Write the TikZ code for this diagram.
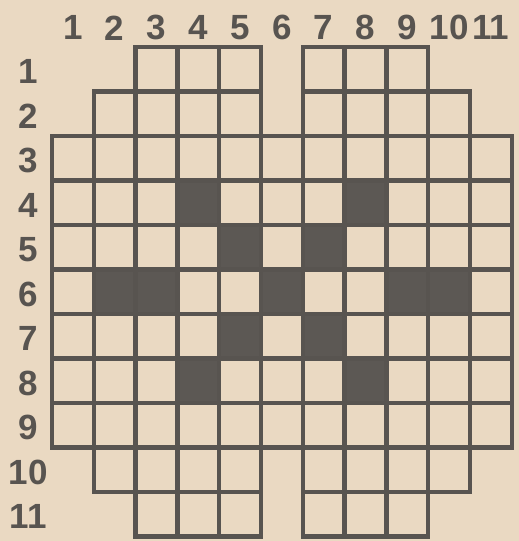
\documentclass[tikz,border=0pt]{standalone}
\usepackage{fontspec}
\setmainfont{Liberation Sans}
\definecolor{paper}{RGB}{234,217,194}
\definecolor{ink}{RGB}{88,84,80}
\definecolor{blot}{RGB}{92,88,84}
\usetikzlibrary{positioning}

\begin{document}
\begin{tikzpicture}[
    x=41.8pt, y=-44.5pt,
    cell/.style={draw=ink, line width=4.5pt, line join=miter},
    number/.style={text=ink, font=\fontsize{35}{35}\selectfont\bfseries, inner sep=0pt}
]

% Paper
\fill[paper] (-1.244,-1.056) rectangle (11.172,11.101);
\useasboundingbox (-1.244,-1.056) rectangle (11.172,11.101);

% Black squares
\foreach \c/\r in {4/4,8/4,5/5,7/5,2/6,3/6,6/6,9/6,10/6,5/7,7/7,4/8,8/8}
    \fill[blot] (\c-1,\r-1) rectangle (\c,\r);

% Top and bottom rows
\foreach \c in {3,4,5,7,8,9} {
    \draw[cell] (\c-1,0) rectangle (\c,1);
    \draw[cell] (\c-1,10) rectangle (\c,11);
}
\foreach \c in {2,3,4,5,7,8,9,10} {
    \draw[cell] (\c-1,1) rectangle (\c,2);
    \draw[cell] (\c-1,9) rectangle (\c,10);
}

% Middle block
\foreach \r in {3,...,9}
    \foreach \c in {1,...,11}
        \draw[cell] (\c-1,\r-1) rectangle (\c,\r);

% Column numbers
\foreach \c in {1,...,11}
    \node[number] (col\c) at (\c-0.5,-0.43) {\c};

% Row numbers
\foreach \r in {1,...,11}
    \node[number] (row\r) at (-0.574,\r-0.44) {\r};

\end{tikzpicture}
\end{document}
